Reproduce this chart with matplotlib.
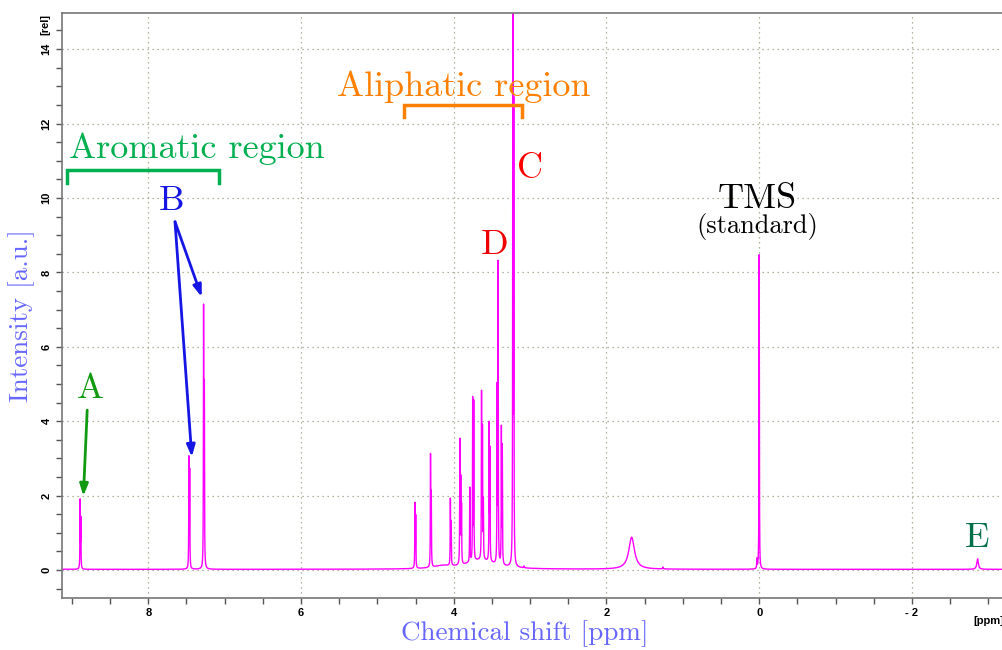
import numpy as np
import matplotlib
matplotlib.use("Agg")
import matplotlib.pyplot as plt
from matplotlib.ticker import MultipleLocator, FixedLocator

# peak table: position [ppm], height [rel], half width [ppm]
peak_ppm = [8.893, 8.884, 7.468, 7.458, 7.276, 7.266,
            4.508, 4.498, 4.304, 4.294, 4.044, 4.034,
            3.920, 3.908, 3.898, 3.790, 3.752, 3.738, 3.636, 3.624, 3.612,
            3.536, 3.526, 3.432, 3.419, 3.376, 3.364, 3.226, 3.214,
            3.08, 1.67, 1.26, 0.03, 0.0, -2.86]
peak_height = [1.80, 1.30, 2.90, 2.55, 6.85, 4.70,
               1.70, 1.35, 2.95, 1.90, 1.75, 1.10,
               3.30, 2.20, 1.50, 2.00, 4.30, 4.20, 4.40, 3.40, 1.50,
               3.60, 2.90, 4.60, 8.00, 3.60, 3.10, 16.0, 12.0,
               0.05, 0.86, 0.05, 0.25, 8.45, 0.28]
peak_width = [0.0025] * 29 + [0.005, 0.045, 0.005, 0.003, 0.0025, 0.012]

# broad underlying humps in the aliphatic multiplets
hump_ppm = [3.65, 4.15]
hump_height = [0.24, 0.07]
hump_width = [0.22, 0.12]

baseline = 0.02

x_major = [8, 6, 4, 2, 0, -2]
x_major_labels = ["8", "6", "4", "2", "0", "- 2"]
y_major = [0, 2, 4, 6, 8, 10, 12, 14]


def lorentz(x, pos, h, w):
    return h / (1.0 + ((x - pos) / w) ** 2)


def main():
    ppm = np.linspace(9.3, -3.3, 60000)
    spec = np.full_like(ppm, baseline)
    for p, h, w in zip(peak_ppm, peak_height, peak_width):
        spec += lorentz(ppm, p, h, w)
    for p, h, w in zip(hump_ppm, hump_height, hump_width):
        spec += lorentz(ppm, p, h, w)

    fig = plt.figure(figsize=(10.02, 6.5), dpi=100)
    ax = fig.add_axes([62 / 1002, 52 / 650, 1 - 62 / 1002, 585 / 650])

    ax.plot(ppm, spec, color="#ff00ff", lw=1.0)

    ax.set_xlim(9.13, -3.18)
    ax.set_ylim(-0.75, 14.97)

    ax.xaxis.set_major_locator(FixedLocator(x_major))
    ax.set_xticklabels(x_major_labels)
    ax.xaxis.set_minor_locator(MultipleLocator(0.5))
    ax.yaxis.set_major_locator(FixedLocator(y_major))
    ax.yaxis.set_minor_locator(MultipleLocator(0.5))

    tick_font = dict(family="Liberation Sans", weight="bold", size=8)
    for lab in ax.get_xticklabels():
        lab.set(**tick_font)
    for lab in ax.get_yticklabels():
        lab.set(**tick_font)
        lab.set_rotation(90)
        lab.set_va("center")
    ax.tick_params(which="both", direction="out", length=4.5, width=1.0,
                   color="#555555", pad=3)

    ax.grid(True, which="major", linestyle=(0, (1, 3)), color="#9c9c80", lw=0.9)

    for side in ["left", "bottom", "top"]:
        ax.spines[side].set_color("#777777")
        ax.spines[side].set_linewidth(1.2)
    ax.spines["right"].set_visible(False)

    ax.text(-0.0175, 0.98, "[rel]", transform=ax.transAxes, rotation=90,
            ha="center", va="center", **tick_font)
    ax.text(-2.80, -0.03, "[ppm]", transform=ax.get_xaxis_transform(),
            ha="left", va="top", **tick_font)

    serif = "cmr10"
    big = 26

    # region brackets
    ax.plot([9.07, 9.07, 7.07, 7.07], [10.4, 10.75, 10.75, 10.4],
            color="#00b050", lw=2.5, solid_joinstyle="miter")
    ax.text(7.36, 11.08, "Aromatic region", color="#00b050", family=serif,
            size=big, ha="center", va="baseline")
    ax.plot([4.65, 4.65, 3.11, 3.11], [12.18, 12.5, 12.5, 12.18],
            color="#ff8000", lw=2.5, solid_joinstyle="miter")
    ax.text(3.875, 12.74, "Aliphatic region", color="#ff8000", family=serif,
            size=big, ha="center", va="baseline")

    # peak labels
    ax.text(8.76, 4.62, "A", color="#119911", family=serif, size=big,
            ha="center", va="baseline")
    ax.text(7.69, 9.68, "B", color="#1515e6", family=serif, size=big,
            ha="center", va="baseline")
    ax.text(3.0, 10.54, "C", color="#ff0000", family=serif, size=big,
            ha="center", va="baseline")
    ax.text(3.47, 8.49, "D", color="#ee0000", family=serif, size=big,
            ha="center", va="baseline")
    ax.text(0.03, 9.72, "TMS", color="black", family=serif, size=big,
            ha="center", va="baseline")
    ax.text(0.03, 9.06, "(standard)", color="black", family=serif, size=19,
            ha="center", va="baseline")
    ax.text(-2.85, 0.62, "E", color="#00704a", family=serif, size=big,
            ha="center", va="baseline")

    arrow = dict(arrowstyle="-|>,head_length=0.7,head_width=0.25", lw=2,
                 shrinkA=0, shrinkB=0)
    ax.annotate("", xy=(8.85, 1.99), xytext=(8.80, 4.30),
                arrowprops=dict(color="#119911", **arrow))
    ax.annotate("", xy=(7.43, 3.04), xytext=(7.65, 9.36),
                arrowprops=dict(color="#1515e6", **arrow))
    ax.annotate("", xy=(7.30, 7.34), xytext=(7.65, 9.36),
                arrowprops=dict(color="#1515e6", **arrow))

    fig.text(525 / 1002, 1 - 634 / 650, "Chemical shift [ppm]", color="#6666ff",
             family=serif, size=19.5, ha="center", va="center")
    fig.text(22 / 1002, 1 - 316 / 650, "Intensity [a.u.]", color="#6666ff",
             family=serif, size=19.5, ha="center", va="center", rotation=90)

    fig.savefig("out.png", dpi=100)
    plt.close(fig)


if __name__ == "__main__":
    main()
